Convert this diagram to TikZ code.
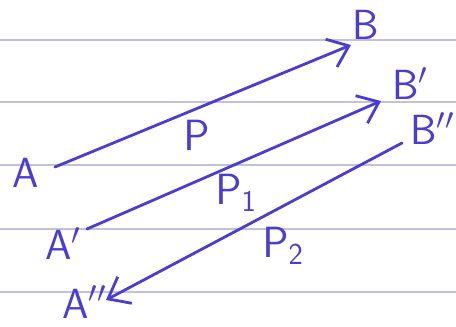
\documentclass[tikz,border=0pt]{standalone}
\usepackage{amsmath}
\usepackage{tikz}
\usetikzlibrary{arrows.meta}
\definecolor{inkblue}{HTML}{4B3DCF}
\definecolor{ruleline}{HTML}{C2C0DE}

\begin{document}
\begin{tikzpicture}[
    x=0.02cm, y=-0.02cm,
    lbl/.style={inner sep=0pt, anchor=base west, text=inkblue, font=\fontsize{24}{28}\selectfont\sffamily},
    vec/.style={-{Straight Barb[length=3.8mm, width=6mm]}, line width=1.6pt, draw=inkblue, line cap=round},
    ruled/.style={draw=ruleline, line width=0.7pt}
]
\useasboundingbox (0,0) rectangle (456,327);
% Ruled paper
\foreach \y in {40,102,165,229,292}
  \draw[ruled] (0,\y) -- (456,\y);

% Ends of the vectors
\coordinate (tP) at (55,167);
\coordinate (hP) at (351,45);
\coordinate (tP1) at (87,229);
\coordinate (hP1) at (381,101);
\coordinate (tP2) at (402,143);
\coordinate (hP2) at (106,300);

% Points
\node[lbl] (A) at (12,188) {A};
\node[lbl] (B) at (352,40) {B};
\node[lbl] (A1) at (45,260) {A$'$};
\node[lbl] (B1) at (392,100) {B$'$};
\node[lbl] (A2) at (62,318) {A$''$};
\node[lbl] (B2) at (410,145) {B$''$};

% Vectors
\draw[vec] (tP) -- (hP);
\draw[vec] (tP1) -- (hP1);
\draw[vec] (tP2) -- (hP2);

% Vector names
\node[lbl] (P) at (183,151) {$\mathsf{P}$};
\node[lbl] (P1) at (215,205) {$\mathsf{P}_{\mathsf{1}}$};
\node[lbl] (P2) at (262,258) {$\mathsf{P}_{\mathsf{2}}$};
\end{tikzpicture}
\end{document}
